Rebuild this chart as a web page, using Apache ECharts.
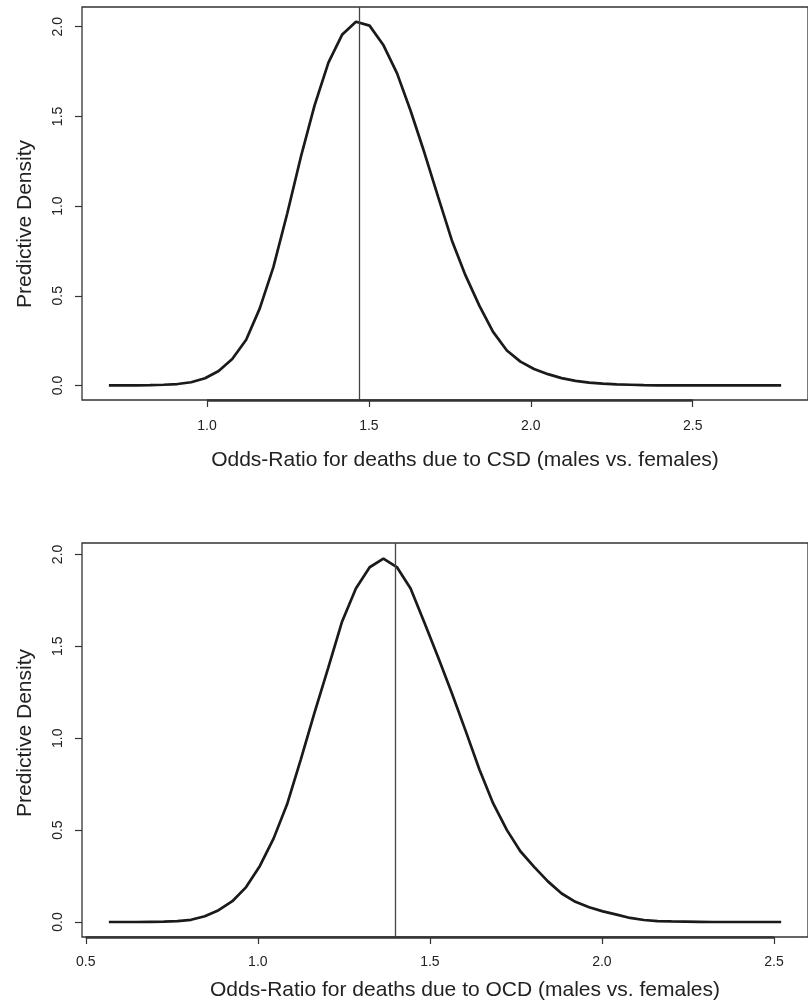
<!DOCTYPE html>
<html>
<head>
<meta charset="utf-8">
<script src="https://cdn.jsdelivr.net/npm/echarts@6/dist/echarts.min.js"></script>
<style>
html,body{margin:0;padding:0;background:#fff;}
#main{width:808px;height:1001px;}
</style>
</head>
<body>
<div id="main"></div>
<script>
// top panel: CSD
var csdX = [0.697,0.739,0.782,0.824,0.866,0.909,0.951,0.994,1.036,1.078,1.121,1.163,1.205,1.248,1.290,1.332,1.375,1.417,1.460,1.502,1.544,1.587,1.629,1.671,1.714,1.756,1.798,1.841,1.883,1.926,1.968,2.010,2.053,2.095,2.138,2.180,2.222,2.265,2.307,2.349,2.392,2.434,2.476,2.519,2.561,2.604,2.646,2.688,2.731,2.773];
var csdY = [0,0,0.001,0.002,0.004,0.008,0.018,0.040,0.081,0.148,0.255,0.43,0.66,0.96,1.275,1.56,1.80,1.955,2.028,2.006,1.90,1.74,1.53,1.30,1.05,0.81,0.615,0.445,0.30,0.195,0.133,0.092,0.063,0.041,0.026,0.016,0.010,0.006,0.004,0.002,0.001,0.001,0,0,0,0,0,0,0,0];
var csdLine = 1.467;
var csdTicks = [1.0,1.5,2.0,2.5];

// bottom panel: OCD
var ocdX = [0.567,0.607,0.647,0.687,0.727,0.766,0.806,0.846,0.886,0.926,0.966,1.006,1.046,1.085,1.125,1.165,1.205,1.245,1.285,1.325,1.365,1.404,1.444,1.484,1.524,1.564,1.604,1.644,1.684,1.724,1.763,1.803,1.843,1.883,1.923,1.963,2.003,2.043,2.082,2.122,2.162,2.202,2.242,2.282,2.322,2.362,2.401,2.441,2.481,2.521];
var ocdY = [0,0,0,0.001,0.002,0.005,0.012,0.031,0.064,0.113,0.19,0.305,0.455,0.64,0.885,1.14,1.385,1.635,1.814,1.93,1.977,1.931,1.814,1.63,1.44,1.245,1.04,0.83,0.645,0.50,0.385,0.30,0.221,0.155,0.11,0.08,0.058,0.04,0.022,0.011,0.005,0.003,0.002,0.001,0,0,0,0,0,0];
var ocdLine = 1.399;
var ocdTicks = [0.5,1.0,1.5,2.0,2.5];

var yTicks = [0.0,0.5,1.0,1.5,2.0];
var yName = 'Predictive Density';
var csdTitle = 'Odds-Ratio for deaths due to CSD (males vs. females)';
var ocdTitle = 'Odds-Ratio for deaths due to OCD (males vs. females)';

var font = "'Liberation Sans', Arial, Helvetica, sans-serif";
var ink = '#1a1a1a';

function pairs(xs, ys){
    var out = [];
    for(var i = 0; i < xs.length; i++){
        out.push([xs[i], ys[i]]);
    }
    return out;
}

function xAxisOf(idx, min, max, ticks, margin){
    return {
        type: 'value', gridIndex: idx, min: min, max: max,
        axisLine: {show: false, onZero: false},
        axisTick: {show: true, inside: false, length: 7, customValues: ticks,
            lineStyle: {color: '#333', width: 1.2}},
        axisLabel: {customValues: ticks, margin: margin, fontSize: 14, color: '#222',
            fontFamily: font, formatter: function(v){ return v.toFixed(1); }},
        splitLine: {show: false}
    };
}

function yAxisOf(idx, min, max){
    return {
        type: 'value', gridIndex: idx, min: min, max: max,
        axisLine: {show: false, onZero: false},
        axisTick: {show: true, inside: false, length: 7, customValues: yTicks,
            lineStyle: {color: '#333', width: 1.2}},
        axisLabel: {customValues: yTicks, rotate: 90, margin: 17, fontSize: 14, color: '#222',
            fontFamily: font, formatter: function(v){ return v.toFixed(1); }},
        splitLine: {show: false}
    };
}

function curveOf(idx, xs, ys, vline, ticks, yMin){
    return {
        type: 'line', xAxisIndex: idx, yAxisIndex: idx,
        data: pairs(xs, ys),
        showSymbol: false, smooth: false,
        lineStyle: {color: ink, width: 2.7},
        silent: true,
        markLine: {
            silent: true, symbol: 'none', label: {show: false},
            data: [
                {xAxis: vline, lineStyle: {color: '#444', width: 1.3, type: 'solid'}},
                [{coord: [ticks[0], yMin], lineStyle: {color: '#333', width: 2.6, type: 'solid'}},
                 {coord: [ticks[ticks.length - 1], yMin]}]
            ]
        }
    };
}

var topMin = -0.081, topMax = 2.11;
var botMin = -0.0816, botMax = 2.062;

var myCharts = echarts.init(document.getElementById('main'), null, {renderer: 'canvas'});
var option = {
    backgroundColor: '#fff',
    animation: false,
    grid: [
        {left: 82, top: 7, width: 732, height: 393, show: true, borderColor: '#333', borderWidth: 1.3, backgroundColor: 'transparent'},
        {left: 82, top: 543, width: 732, height: 394, show: true, borderColor: '#333', borderWidth: 1.3, backgroundColor: 'transparent'}
    ],
    xAxis: [
        xAxisOf(0, 0.614, 2.856, csdTicks, 19),
        xAxisOf(1, 0.489, 2.599, ocdTicks, 18)
    ],
    yAxis: [
        yAxisOf(0, topMin, topMax),
        yAxisOf(1, botMin, botMax)
    ],
    series: [
        curveOf(0, csdX, csdY, csdLine, csdTicks, topMin),
        curveOf(1, ocdX, ocdY, ocdLine, ocdTicks, botMin)
    ],
    graphic: [
        {type: 'text', x: 25, y: 224, rotation: Math.PI / 2,
            style: {text: yName, font: '21px ' + font, fill: '#222', align: 'center', verticalAlign: 'middle'}},
        {type: 'text', x: 25, y: 733, rotation: Math.PI / 2,
            style: {text: yName, font: '21px ' + font, fill: '#222', align: 'center', verticalAlign: 'middle'}},
        {type: 'text', x: 465, y: 460,
            style: {text: csdTitle, font: '21px ' + font, fill: '#222', align: 'center', verticalAlign: 'middle'}},
        {type: 'text', x: 465, y: 990,
            style: {text: ocdTitle, font: '21px ' + font, fill: '#222', align: 'center', verticalAlign: 'middle'}}
    ]
};
myCharts.setOption(option);
</script>
</body>
</html>
